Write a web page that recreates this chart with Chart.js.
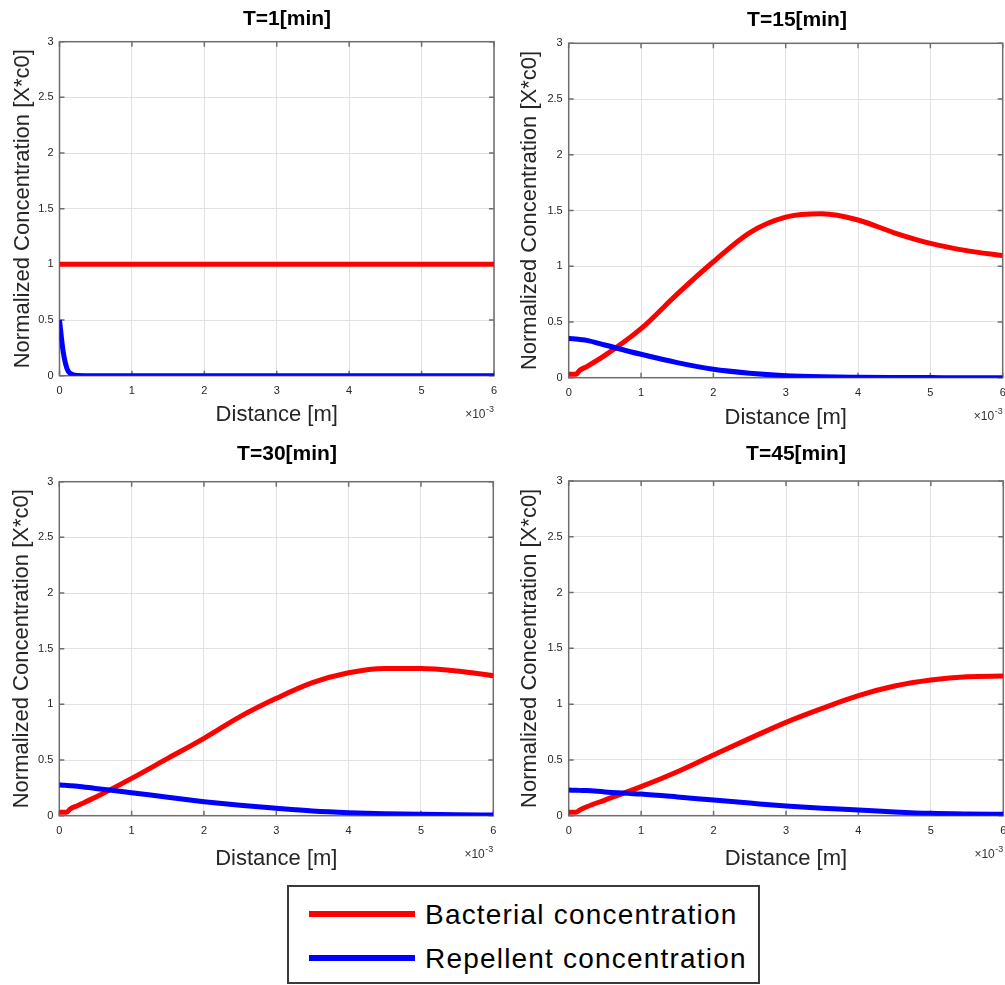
<!DOCTYPE html>
<html>
<head>
<meta charset="utf-8">
<script src="https://cdn.jsdelivr.net/npm/chart.js@4/dist/chart.umd.min.js"></script>
<style>
  html, body { margin: 0; padding: 0; background: #ffffff; overflow: hidden; }
  #stage { position: relative; width: 1005px; height: 985px; overflow: hidden; background: #fff; }
  canvas { position: absolute; }
  #legend { position: absolute; left: 287px; top: 885px; width: 473px; height: 99px;
            box-sizing: border-box; border: 2px solid #3a3a3a; background: #fff;
            font-family: 'Liberation Sans', Arial, sans-serif; font-size: 28px; letter-spacing: 1.2px; color: #000; }
  .row { position: absolute; left: 0; height: 40px; width: 100%; }
  .sw { position: absolute; left: 20px; width: 106px; height: 6px; top: 17px; }
  .lab { position: absolute; left: 136px; top: 5px; line-height: 32px; white-space: nowrap; }
</style>
</head>
<body>
<div id="stage">
  <canvas id="c1" width="574" height="435" style="left:0px;top:0px"></canvas>
  <canvas id="c2" width="584" height="435" style="left:505px;top:0px"></canvas>
  <canvas id="c3" width="574" height="445" style="left:0px;top:430px"></canvas>
  <canvas id="c4" width="582" height="445" style="left:505px;top:430px"></canvas>
  <div id="legend">
    <div class="row" style="top:7px"><div class="sw" style="background:#ff0000"></div><div class="lab" id="lab1"></div></div>
    <div class="row" style="top:51px"><div class="sw" style="background:#0000ff"></div><div class="lab" id="lab2"></div></div>
  </div>
</div>
<script>
// ---------------- DATA ----------------
const seriesNames = ['Bacterial concentration', 'Repellent concentration'];
const titles = ['T=1[min]', 'T=15[min]', 'T=30[min]', 'T=45[min]'];
const xTitle = 'Distance [m]';
const yTitle = 'Normalized Concentration [X*c0]';
const xExponent = '-3';
const xTicks = [0, 1, 2, 3, 4, 5, 6];
const yTicks = [0, 0.5, 1, 1.5, 2, 2.5, 3];

// distance (x 10^-3 m)
const distance = [0, 0.05, 0.1, 0.15, 0.25, 0.5, 1, 1.5, 2, 2.5, 3, 3.5, 4, 4.5, 5, 5.5, 6];

const bacteriaT1  = [1, 1, 1, 1, 1, 1, 1, 1, 1, 1, 1, 1, 1, 1, 1, 1, 1];
const repellentT1 = [0.5, 0.22, 0.07, 0.02, 0.002, 0, 0, 0, 0, 0, 0, 0, 0, 0, 0, 0, 0];

const bacteriaT15  = [0.03, 0.03, 0.03, 0.065, 0.1, 0.2, 0.44, 0.75, 1.04, 1.3, 1.44, 1.47, 1.415, 1.3, 1.205, 1.14, 1.095];
const repellentT15 = [0.353, 0.35, 0.347, 0.343, 0.335, 0.293, 0.21, 0.135, 0.075, 0.04, 0.018, 0.008, 0.004, 0.002, 0.001, 0, 0];

const bacteriaT30  = [0.03, 0.03, 0.03, 0.06, 0.09, 0.165, 0.335, 0.515, 0.695, 0.89, 1.054, 1.195, 1.284, 1.323, 1.323, 1.3, 1.257];
const repellentT30 = [0.275, 0.274, 0.272, 0.27, 0.265, 0.245, 0.207, 0.165, 0.126, 0.093, 0.066, 0.042, 0.027, 0.018, 0.012, 0.008, 0.006];

const bacteriaT45  = [0.03, 0.03, 0.03, 0.05, 0.08, 0.14, 0.26, 0.394, 0.544, 0.693, 0.837, 0.962, 1.076, 1.162, 1.216, 1.246, 1.252];
const repellentT45 = [0.23, 0.229, 0.228, 0.227, 0.225, 0.213, 0.194, 0.168, 0.14, 0.113, 0.087, 0.067, 0.051, 0.034, 0.021, 0.015, 0.012];

// ---------------- LAYOUT (not data) ----------------
const FONT = "'Liberation Sans', Arial, sans-serif";
const panels = [
  { id: 'c1', title: titles[0], bac: bacteriaT1,  rep: repellentT1,  yW: 59.5, spacer: 80,   tPad: {top: 6.7,  bottom: 9.8},  xH: 59.3, xtPad: 6.8, ytPad: 9.3 },
  { id: 'c2', title: titles[1], bac: bacteriaT15, rep: repellentT15, yW: 63.7, spacer: 86.3, tPad: {top: 7.4,  bottom: 10.7}, xH: 57.3, xtPad: 3.8, ytPad: 12 },
  { id: 'c3', title: titles[2], bac: bacteriaT30, rep: repellentT30, yW: 59.3, spacer: 80.7, tPad: {top: 11.4, bottom: 15.1}, xH: 59.3, xtPad: 2.8, ytPad: 9 },
  { id: 'c4', title: titles[3], bac: bacteriaT45, rep: repellentT45, yW: 63.7, spacer: 83.7, tPad: {top: 11.6, bottom: 14.2}, xH: 59.3, xtPad: 2.8, ytPad: 12 }
];

document.getElementById('lab1').textContent = seriesNames[0];
document.getElementById('lab2').textContent = seriesNames[1];

const boxPlugin = {
  id: 'matlabBox',
  beforeDatasetsDraw(chart) {
    const {ctx, chartArea: a, scales} = chart;
    const x = scales.x, y = scales.y;
    ctx.save();
    ctx.strokeStyle = '#6e6e6e';
    ctx.lineWidth = 1.5;
    ctx.strokeRect(a.left, a.top, a.right - a.left, a.bottom - a.top);
    const tl = 5;
    ctx.beginPath();
    x.ticks.forEach(t => {
      const px = x.getPixelForValue(t.value);
      ctx.moveTo(px, a.bottom); ctx.lineTo(px, a.bottom - tl);
      ctx.moveTo(px, a.top); ctx.lineTo(px, a.top + tl);
    });
    y.ticks.forEach(t => {
      const py = y.getPixelForValue(t.value);
      ctx.moveTo(a.left, py); ctx.lineTo(a.left + tl, py);
      ctx.moveTo(a.right, py); ctx.lineTo(a.right - tl, py);
    });
    ctx.stroke();
    ctx.restore();
  },
  afterDraw(chart) {
    const {ctx, chartArea: a} = chart;
    ctx.save();
    ctx.fillStyle = '#333333';
    ctx.textAlign = 'right';
    ctx.textBaseline = 'alphabetic';
    ctx.font = '9px ' + FONT;
    const supW = ctx.measureText(xExponent).width;
    ctx.fillText(xExponent, a.right, a.bottom + 36);
    ctx.font = '12px ' + FONT;
    ctx.fillText('\u00d710', a.right - supW - 0.5, a.bottom + 42);
    ctx.restore();
  }
};

function makeChart(p) {
  const ctx = document.getElementById(p.id);
  return new Chart(ctx, {
    type: 'line',
    data: {
      labels: distance,
      datasets: [
        { label: seriesNames[0], data: distance.map((d, i) => ({x: d, y: p.bac[i]})),
          borderColor: '#ff0000', backgroundColor: '#ff0000', borderWidth: 5, pointRadius: 0,
          cubicInterpolationMode: 'monotone', order: 2 },
        { label: seriesNames[1], data: distance.map((d, i) => ({x: d, y: p.rep[i]})),
          borderColor: '#0000ff', backgroundColor: '#0000ff', borderWidth: 5, pointRadius: 0,
          cubicInterpolationMode: 'monotone', order: 1 }
      ]
    },
    options: {
      responsive: false,
      animation: false,
      events: [],
      layout: { padding: 0 },
      plugins: {
        legend: { display: false },
        tooltip: { enabled: false },
        title: { display: true, text: p.title, color: '#000',
                 font: { family: FONT, size: 21, weight: 'bold', lineHeight: 1.2 },
                 padding: p.tPad }
      },
      scales: {
        x: {
          type: 'linear', min: 0, max: 6,
          afterBuildTicks: s => { s.ticks = xTicks.map(v => ({value: v})); },
          afterFit: s => { s.height = p.xH; s.paddingLeft = 0; s.paddingRight = 0; },
          ticks: { color: '#262626', font: { family: FONT, size: 11 }, padding: 8.5, maxRotation: 0, autoSkip: false,
                   callback: v => String(v) },
          grid: { color: '#e2e2e2', lineWidth: 1, drawTicks: false },
          border: { display: false },
          title: { display: true, text: xTitle, color: '#262626',
                   font: { family: FONT, size: 22, lineHeight: 1.2 },
                   padding: { top: 0, bottom: p.xtPad } }
        },
        y: {
          type: 'linear', min: 0, max: 3, position: 'left',
          afterBuildTicks: s => { s.ticks = yTicks.map(v => ({value: v})); },
          afterFit: s => { s.width = p.yW; s.paddingTop = 0; s.paddingBottom = 0; },
          ticks: { color: '#262626', font: { family: FONT, size: 11 }, padding: 6, autoSkip: false,
                   callback: v => String(v) },
          grid: { color: '#e2e2e2', lineWidth: 1, drawTicks: false },
          border: { display: false },
          title: { display: true, text: yTitle, color: '#262626',
                   font: { family: FONT, size: 22, lineHeight: 1.2 },
                   padding: { top: p.ytPad, bottom: 0 } }
        },
        spacer: {
          type: 'linear', position: 'right', display: true,
          afterFit: s => { s.width = p.spacer; s.paddingTop = 0; s.paddingBottom = 0; },
          ticks: { display: false },
          grid: { display: false, drawTicks: false },
          border: { display: false },
          title: { display: false }
        }
      }
    },
    plugins: [boxPlugin]
  });
}

panels.forEach(makeChart);
</script>
</body>
</html>
